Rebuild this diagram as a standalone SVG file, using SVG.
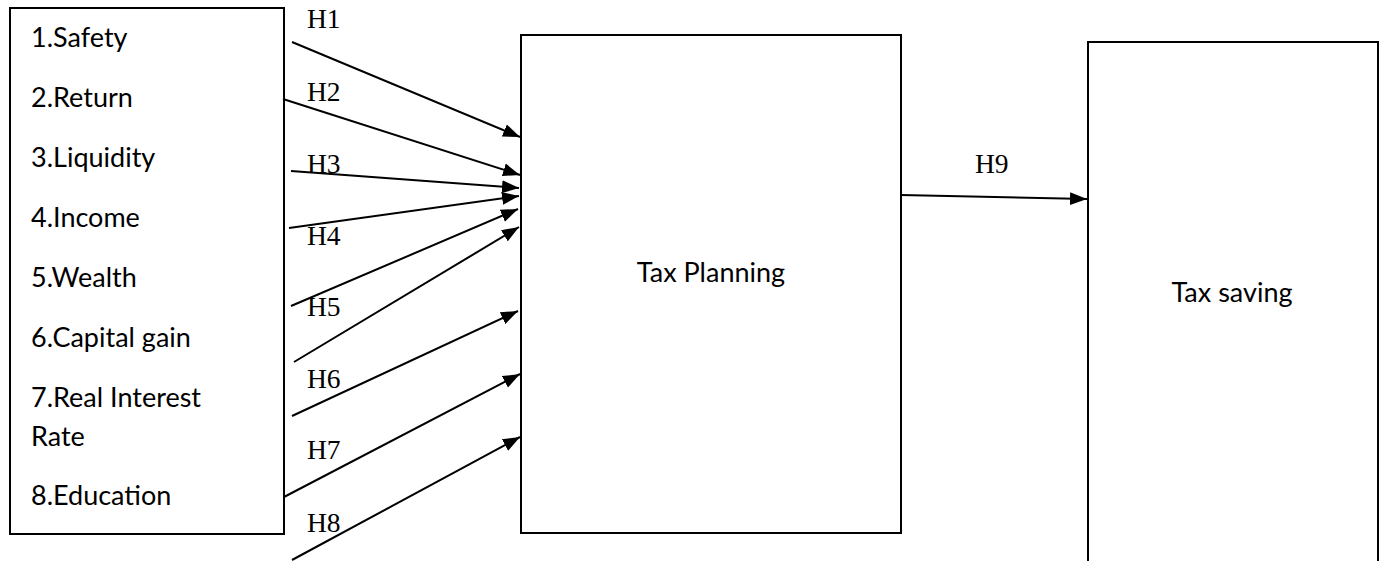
<svg xmlns="http://www.w3.org/2000/svg" width="1382" height="561" viewBox="0 0 1382 561">
  <style>
    .box { fill: #ffffff; stroke: #000000; stroke-width: 2; }
    .item { font-family: Lato, "Open Sans", "Liberation Sans", sans-serif; font-size: 27px; fill: #000000; }
    .hyp { font-family: "Liberation Serif", "Times New Roman", serif; font-size: 27.5px; fill: #000000; }
    .link { stroke: #000000; stroke-width: 2; fill: none; marker-end: url(#arrow); }
  </style>
  <defs>
    <marker id="arrow" markerUnits="userSpaceOnUse" markerWidth="18" markerHeight="14" refX="17" refY="7" orient="auto">
      <path d="M0,0.5 L17,7 L0,13.5 z" fill="#000000"/>
    </marker>
  </defs>
  <rect width="1382" height="561" fill="#ffffff"/>

  <!-- Factors -->
  <g id="factors">
    <rect class="box" x="10" y="8" width="274" height="526"/>
    <text class="item" x="31" y="47">1.Safety</text>
    <text class="item" x="31" y="107">2.Return</text>
    <text class="item" x="31" y="167">3.Liquidity</text>
    <text class="item" x="31" y="227">4.Income</text>
    <text class="item" x="31" y="287">5.Wealth</text>
    <text class="item" x="31" y="347">6.Capital gain</text>
    <text class="item" x="31" y="407">7.Real Interest</text>
    <text class="item" x="31" y="446">Rate</text>
    <text class="item" x="31" y="505">8.Education</text>
  </g>

  <!-- Tax Planning -->
  <g id="tax-planning">
    <rect class="box" x="521" y="35" width="380" height="498"/>
    <text class="item" x="711" y="282" text-anchor="middle">Tax Planning</text>
  </g>

  <!-- Tax saving -->
  <g id="tax-saving">
    <rect class="box" x="1088" y="42" width="290" height="540"/>
    <text class="item" x="1232" y="302" text-anchor="middle">Tax saving</text>
  </g>

  <!-- Hypothesis paths -->
  <g id="connectors">
    <line class="link" x1="292" y1="42" x2="520" y2="137"/>
    <line class="link" x1="283" y1="99" x2="520" y2="175"/>
    <line class="link" x1="291" y1="171" x2="519" y2="188"/>
    <line class="link" x1="289" y1="228" x2="519" y2="196"/>
    <line class="link" x1="291" y1="306" x2="518" y2="209"/>
    <line class="link" x1="294" y1="362" x2="519" y2="227"/>
    <line class="link" x1="292" y1="416" x2="518" y2="311"/>
    <line class="link" x1="284" y1="497" x2="520" y2="374"/>
    <line class="link" x1="292" y1="560" x2="520" y2="437"/>
    <line class="link" x1="901" y1="195" x2="1087" y2="199"/>
  </g>

  <!-- Hypothesis labels -->
  <g id="labels">
    <text class="hyp" x="307" y="28">H1</text>
    <text class="hyp" x="307" y="101">H2</text>
    <text class="hyp" x="307" y="173">H3</text>
    <text class="hyp" x="307" y="245">H4</text>
    <text class="hyp" x="307" y="316">H5</text>
    <text class="hyp" x="307" y="388">H6</text>
    <text class="hyp" x="307" y="459">H7</text>
    <text class="hyp" x="307" y="532">H8</text>
    <text class="hyp" x="975" y="173">H9</text>
  </g>
</svg>
